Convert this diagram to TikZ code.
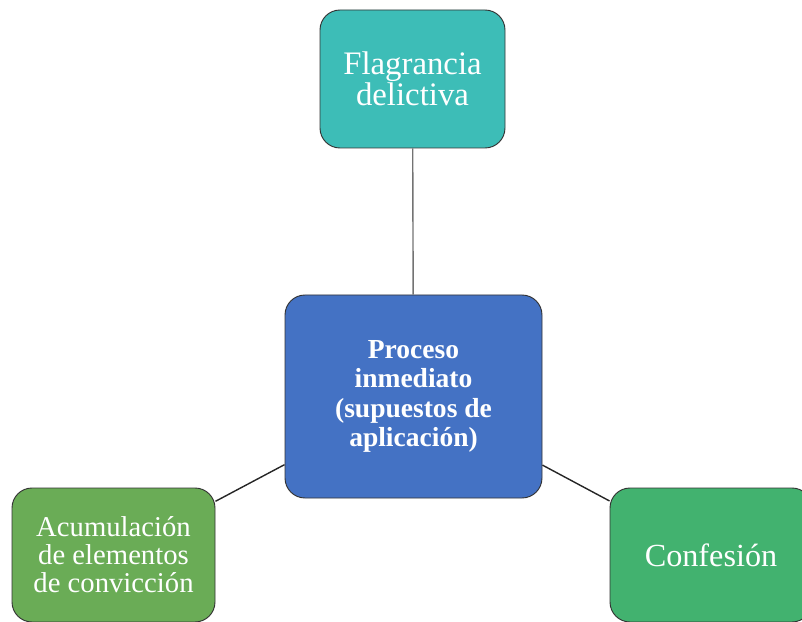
\documentclass[tikz,border=0pt]{standalone}
\usepackage{fontspec}
\setmainfont{Liberation Serif}
\definecolor{flagteal}{RGB}{61, 189, 183}
\definecolor{procblue}{RGB}{68, 114, 196}
\definecolor{acumgreen}{RGB}{106, 172, 86}
\definecolor{confgreen}{RGB}{66, 178, 111}
\usetikzlibrary{positioning}

\begin{document}
\begin{tikzpicture}[
  x=0.03cm, y=-0.03cm,
  caso/.style={draw=black!80, line width=0.8pt, rounded corners=0.6cm, align=center, text=white, inner sep=0pt},
  enlace/.style={line width=1.2pt}
]
  \useasboundingbox (0,0) rectangle (802,622);
  \begin{scope}
  \clip (0,0) rectangle (802,622);
  \node[caso, fill=procblue, minimum width=257*0.03cm, minimum height=203*0.03cm, font=\bfseries\fontsize{23.5}{25}\selectfont] (proceso) at (413.5,396.5)
    {Proceso\\inmediato\\(supuestos de\\aplicación)};
  \node[caso, fill=flagteal, minimum width=185*0.03cm, minimum height=138*0.03cm, font=\fontsize{28}{23}\selectfont] (flagrancia) at (412.5,79)
    {Flagrancia\\delictiva};
  \node[caso, fill=acumgreen, minimum width=203*0.03cm, minimum height=134*0.03cm, font=\fontsize{24.5}{24}\selectfont] (acumulacion) at (113.5,555)
    {Acumulación\\de elementos\\de convicción};
  \node[caso, fill=confgreen, minimum width=202*0.03cm, minimum height=134*0.03cm, font=\fontsize{27.5}{24}\selectfont] (confesion) at (711,555)
    {Confesión};
  \end{scope}
  % enlaces
  \draw[enlace, draw=black!55] (flagrancia) -- (proceso);
  \draw[enlace, draw=black!85] (proceso) -- (acumulacion);
  \draw[enlace, draw=black!85] (proceso) -- (confesion);
\end{tikzpicture}
\end{document}
